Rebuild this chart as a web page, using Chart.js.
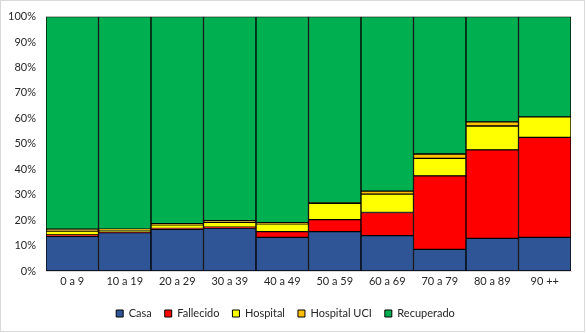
<!DOCTYPE html>
<html>
<head>
<meta charset="utf-8">
<script src="https://cdn.jsdelivr.net/npm/chart.js@4.4.1/dist/chart.umd.min.js"></script>
<style>
  html, body { margin: 0; padding: 0; background: #fff; }
  #wrap { width: 586px; height: 333px; position: relative; }
</style>
</head>
<body>
<div id="wrap"><canvas id="myChart" width="586" height="333"></canvas></div>
<script>
// age groups
const categories = ["0 a 9", "10 a 19", "20 a 29", "30 a 39", "40 a 49", "50 a 59", "60 a 69", "70 a 79", "80 a 89", "90 ++"];

// percentages
const casa        = [13.6, 15.1, 16.4, 16.9, 13.2, 15.5, 13.9,  8.5, 12.8, 13.2];
const fallecido   = [ 0.6,  0.2,  0.3,  0.3,  2.3,  4.7,  9.1, 28.9, 34.8, 39.3];
const hospital    = [ 1.5,  0.8,  1.4,  1.9,  3.0,  6.4,  7.2,  6.9,  9.4,  8.1];
const hospitalUci = [ 0.7,  0.3,  0.5,  0.7,  0.5,  0.2,  1.2,  1.7,  1.6,  0.0];
const recuperado  = [83.6, 83.6, 81.4, 80.2, 81.0, 73.2, 68.6, 54.0, 41.4, 39.4];

const yTicks = [0, 10, 20, 30, 40, 50, 60, 70, 80, 90, 100];

const txtFont = { family: "Lato", size: 11 };
const txtColor = "#262626";

// light gray frame round the whole chart, like excel
const framePlugin = {
  id: "frame",
  beforeDraw(chart) {
    const ctx = chart.ctx;
    ctx.save();
    ctx.fillStyle = "#fff";
    ctx.fillRect(0, 0, chart.width, chart.height);
    ctx.strokeStyle = "#d9d9d9";
    ctx.lineWidth = 1;
    ctx.strokeRect(0.5, 0.5, chart.width - 2, chart.height - 2);
    ctx.restore();
  }
};

function ds(label, data, color) {
  return {
    label: label,
    data: data,
    backgroundColor: color,
    borderColor: "#000",
    borderWidth: 1,
    borderSkipped: false,
    barPercentage: 1,
    categoryPercentage: 1
  };
}

const myChart = new Chart(document.getElementById("myChart"), {
  type: "bar",
  data: {
    labels: categories,
    datasets: [
      ds("Casa", casa, "#2f5597"),
      ds("Fallecido", fallecido, "#ff0000"),
      ds("Hospital", hospital, "#ffff00"),
      ds("Hospital UCI", hospitalUci, "#ffc000"),
      ds("Recuperado", recuperado, "#00b050")
    ]
  },
  options: {
    responsive: false,
    animation: false,
    layout: { padding: { top: 15, right: 15, left: 0, bottom: 4 } },
    plugins: {
      tooltip: { enabled: false },
      legend: {
        position: "bottom",
        labels: {
          font: txtFont,
          color: txtColor,
          boxWidth: 7,
          boxHeight: 7,
          padding: 13
        }
      }
    },
    scales: {
      x: {
        stacked: true,
        grid: { display: false, drawTicks: false },
        border: { display: true, color: "#d9d9d9" },
        ticks: { font: txtFont, color: txtColor, padding: 4, maxRotation: 0 },
        afterFit: (scale) => { scale.height = 24; }
      },
      y: {
        stacked: true,
        min: 0,
        max: 100,
        grid: { display: false, drawTicks: false },
        border: { display: false },
        afterBuildTicks: (scale) => { scale.ticks = yTicks.map(v => ({ value: v })); },
        ticks: { font: txtFont, color: txtColor, padding: 10, callback: (v) => v + "%" },
        afterFit: (scale) => { scale.width = 46; }
      }
    }
  },
  plugins: [framePlugin]
});
</script>
</body>
</html>
